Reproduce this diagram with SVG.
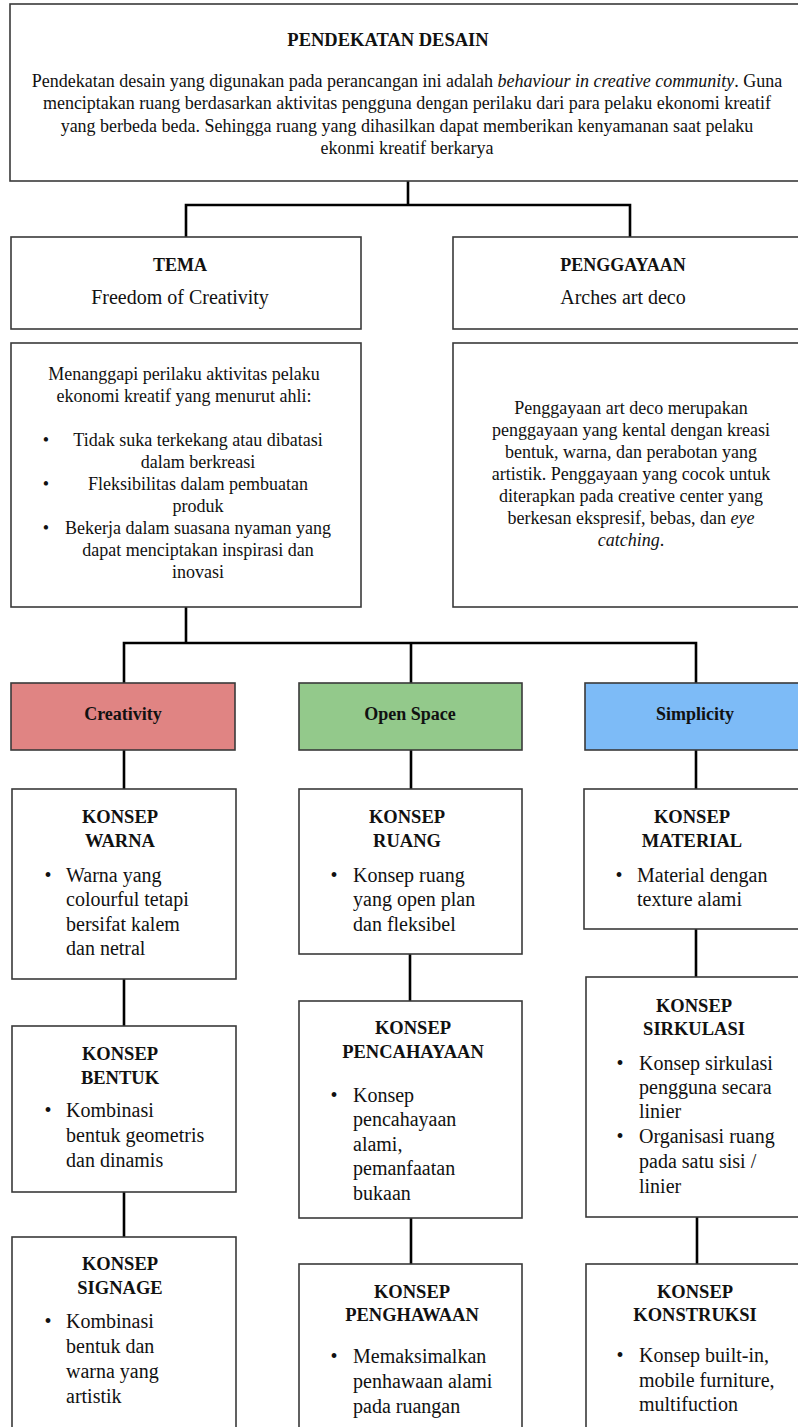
<svg xmlns="http://www.w3.org/2000/svg" width="798" height="1427" viewBox="0 0 798 1427">
<style>
text{font-family:"Liberation Serif","Times New Roman",serif;fill:#111}
.box{fill:#fff;stroke:#3a3a3a;stroke-width:1.6}
.h{font-weight:bold;font-size:18px;text-anchor:middle}
.b{font-size:18px}
.c{text-anchor:middle}
.k{font-size:20px}
.kh{font-weight:bold;font-size:18.5px;text-anchor:middle}
.con{stroke:#000;stroke-width:2.6;fill:none}
</style>
<rect width="798" height="1427" fill="#fff"/>
<g id="connectors">
<path class="con" d="M408 181V205M186 237V205H630V237"/>
<path class="con" d="M186 607V643M124 683V643H696V683M411 643V683"/>
<path class="con" d="M124 750V789M411 750V789M696 750V789"/>
<path class="con" d="M124 979V1026M410 954V1001M696 929V977"/>
<path class="con" d="M124 1192V1237M411 1218V1264M697 1217V1264"/>
</g>
<g id="pendekatan">
<rect class="box" x="10" y="4" width="796" height="177"/>
<text class="h" x="388" y="46" style="font-size:18.5px">PENDEKATAN DESAIN</text>
<text class="b c" x="407" y="87">Pendekatan desain yang digunakan pada perancangan ini adalah <tspan font-style="italic">behaviour in creative community</tspan>. Guna</text>
<text class="b c" x="407" y="109">menciptakan ruang berdasarkan aktivitas pengguna dengan perilaku dari para pelaku ekonomi kreatif</text>
<text class="b c" x="407" y="132">yang berbeda beda. Sehingga ruang yang dihasilkan dapat memberikan kenyamanan saat pelaku</text>
<text class="b c" x="407" y="154">ekonmi kreatif berkarya</text>
</g>
<g id="tema">
<rect class="box" x="11" y="237" width="350" height="92"/>
<text class="h" x="180" y="271">TEMA</text>
<text class="c" x="180" y="304" style="font-size:20px">Freedom of Creativity</text>
</g>
<g id="penggayaan">
<rect class="box" x="453" y="237" width="352" height="92"/>
<text class="h" x="623" y="271">PENGGAYAAN</text>
<text class="c" x="623" y="304" style="font-size:20px">Arches art deco</text>
</g>
<g id="tema-desc">
<rect class="box" x="11" y="343" width="350" height="264"/>
<text class="b c" x="184" y="380">Menanggapi perilaku aktivitas pelaku</text>
<text class="b c" x="184" y="402">ekonomi kreatif yang menurut ahli:</text>
<text class="b c" x="46" y="446">•</text>
<text class="b c" x="198" y="446">Tidak suka terkekang atau dibatasi</text>
<text class="b c" x="198" y="468">dalam berkreasi</text>
<text class="b c" x="46" y="490">•</text>
<text class="b c" x="198" y="490">Fleksibilitas dalam pembuatan</text>
<text class="b c" x="198" y="512">produk</text>
<text class="b c" x="46" y="534">•</text>
<text class="b c" x="198" y="534">Bekerja dalam suasana nyaman yang</text>
<text class="b c" x="198" y="556">dapat menciptakan inspirasi dan</text>
<text class="b c" x="198" y="578">inovasi</text>
</g>
<g id="penggayaan-desc">
<rect class="box" x="453" y="343" width="352" height="264"/>
<text class="b c" x="631" y="414">Penggayaan art deco merupakan</text>
<text class="b c" x="631" y="436">penggayaan yang kental dengan kreasi</text>
<text class="b c" x="631" y="458">bentuk, warna, dan perabotan yang</text>
<text class="b c" x="631" y="480">artistik. Penggayaan yang cocok untuk</text>
<text class="b c" x="631" y="502">diterapkan pada creative center yang</text>
<text class="b c" x="631" y="524">berkesan ekspresif, bebas, dan <tspan font-style="italic">eye</tspan></text>
<text class="b c" x="631" y="546"><tspan font-style="italic">catching</tspan>.</text>
</g>
<g id="creativity">
<rect x="11" y="683" width="224" height="67" fill="#E08483" stroke="#3a3a3a" stroke-width="1.6"/>
<text class="h" x="123" y="720">Creativity</text>
</g>
<g id="open-space">
<rect x="299" y="683" width="223" height="67" fill="#93C98B" stroke="#3a3a3a" stroke-width="1.6"/>
<text class="h" x="410" y="720">Open Space</text>
</g>
<g id="simplicity">
<rect x="585" y="683" width="224" height="67" fill="#7DBBF7" stroke="#3a3a3a" stroke-width="1.6"/>
<text class="h" x="695" y="720">Simplicity</text>
</g>
<g id="konsep-warna">
<rect class="box" x="12" y="789" width="224" height="190"/>
<text class="kh" x="120" y="823">KONSEP</text>
<text class="kh" x="120" y="847">WARNA</text>
<text class="k c" x="48" y="882">•</text>
<text class="k" x="66" y="882">Warna yang</text>
<text class="k" x="66" y="906">colourful tetapi</text>
<text class="k" x="66" y="931">bersifat kalem</text>
<text class="k" x="66" y="955">dan netral</text>
</g>
<g id="konsep-bentuk">
<rect class="box" x="12" y="1026" width="224" height="166"/>
<text class="kh" x="120" y="1060">KONSEP</text>
<text class="kh" x="120" y="1084">BENTUK</text>
<text class="k c" x="48" y="1117">•</text>
<text class="k" x="66" y="1117">Kombinasi</text>
<text class="k" x="66" y="1142">bentuk geometris</text>
<text class="k" x="66" y="1167">dan dinamis</text>
</g>
<g id="konsep-signage">
<rect class="box" x="12" y="1237" width="224" height="200"/>
<text class="kh" x="120" y="1270">KONSEP</text>
<text class="kh" x="120" y="1294">SIGNAGE</text>
<text class="k c" x="48" y="1328">•</text>
<text class="k" x="66" y="1328">Kombinasi</text>
<text class="k" x="66" y="1353">bentuk dan</text>
<text class="k" x="66" y="1378">warna yang</text>
<text class="k" x="66" y="1403">artistik</text>
</g>
<g id="konsep-ruang">
<rect class="box" x="299" y="789" width="223" height="165"/>
<text class="kh" x="407" y="823">KONSEP</text>
<text class="kh" x="407" y="847">RUANG</text>
<text class="k c" x="334" y="882">•</text>
<text class="k" x="353" y="882">Konsep ruang</text>
<text class="k" x="353" y="906">yang open plan</text>
<text class="k" x="353" y="931">dan fleksibel</text>
</g>
<g id="konsep-pencahayaan">
<rect class="box" x="299" y="1001" width="223" height="217"/>
<text class="kh" x="413" y="1034">KONSEP</text>
<text class="kh" x="413" y="1058">PENCAHAYAAN</text>
<text class="k c" x="334" y="1102">•</text>
<text class="k" x="353" y="1102">Konsep</text>
<text class="k" x="353" y="1126">pencahayaan</text>
<text class="k" x="353" y="1151">alami,</text>
<text class="k" x="353" y="1175">pemanfaatan</text>
<text class="k" x="353" y="1200">bukaan</text>
</g>
<g id="konsep-penghawaan">
<rect class="box" x="299" y="1264" width="223" height="180"/>
<text class="kh" x="412" y="1298">KONSEP</text>
<text class="kh" x="412" y="1321">PENGHAWAAN</text>
<text class="k c" x="334" y="1363">•</text>
<text class="k" x="353" y="1363">Memaksimalkan</text>
<text class="k" x="353" y="1388">penhawaan alami</text>
<text class="k" x="353" y="1413">pada ruangan</text>
</g>
<g id="konsep-material">
<rect class="box" x="584" y="789" width="224" height="140"/>
<text class="kh" x="692" y="823">KONSEP</text>
<text class="kh" x="692" y="847">MATERIAL</text>
<text class="k c" x="619" y="882">•</text>
<text class="k" x="637" y="882">Material dengan</text>
<text class="k" x="637" y="906">texture alami</text>
</g>
<g id="konsep-sirkulasi">
<rect class="box" x="586" y="977" width="224" height="240"/>
<text class="kh" x="694" y="1012">KONSEP</text>
<text class="kh" x="694" y="1035">SIRKULASI</text>
<text class="k c" x="620" y="1070">•</text>
<text class="k" x="639" y="1070">Konsep sirkulasi</text>
<text class="k" x="639" y="1094">pengguna secara</text>
<text class="k" x="639" y="1118">linier</text>
<text class="k c" x="620" y="1143">•</text>
<text class="k" x="639" y="1143">Organisasi ruang</text>
<text class="k" x="639" y="1168">pada satu sisi /</text>
<text class="k" x="639" y="1193">linier</text>
</g>
<g id="konsep-konstruksi">
<rect class="box" x="586" y="1264" width="224" height="180"/>
<text class="kh" x="695" y="1298">KONSEP</text>
<text class="kh" x="695" y="1321">KONSTRUKSI</text>
<text class="k c" x="620" y="1362">•</text>
<text class="k" x="639" y="1362">Konsep built-in,</text>
<text class="k" x="639" y="1387">mobile furniture,</text>
<text class="k" x="639" y="1411">multifuction</text>
</g>
</svg>
